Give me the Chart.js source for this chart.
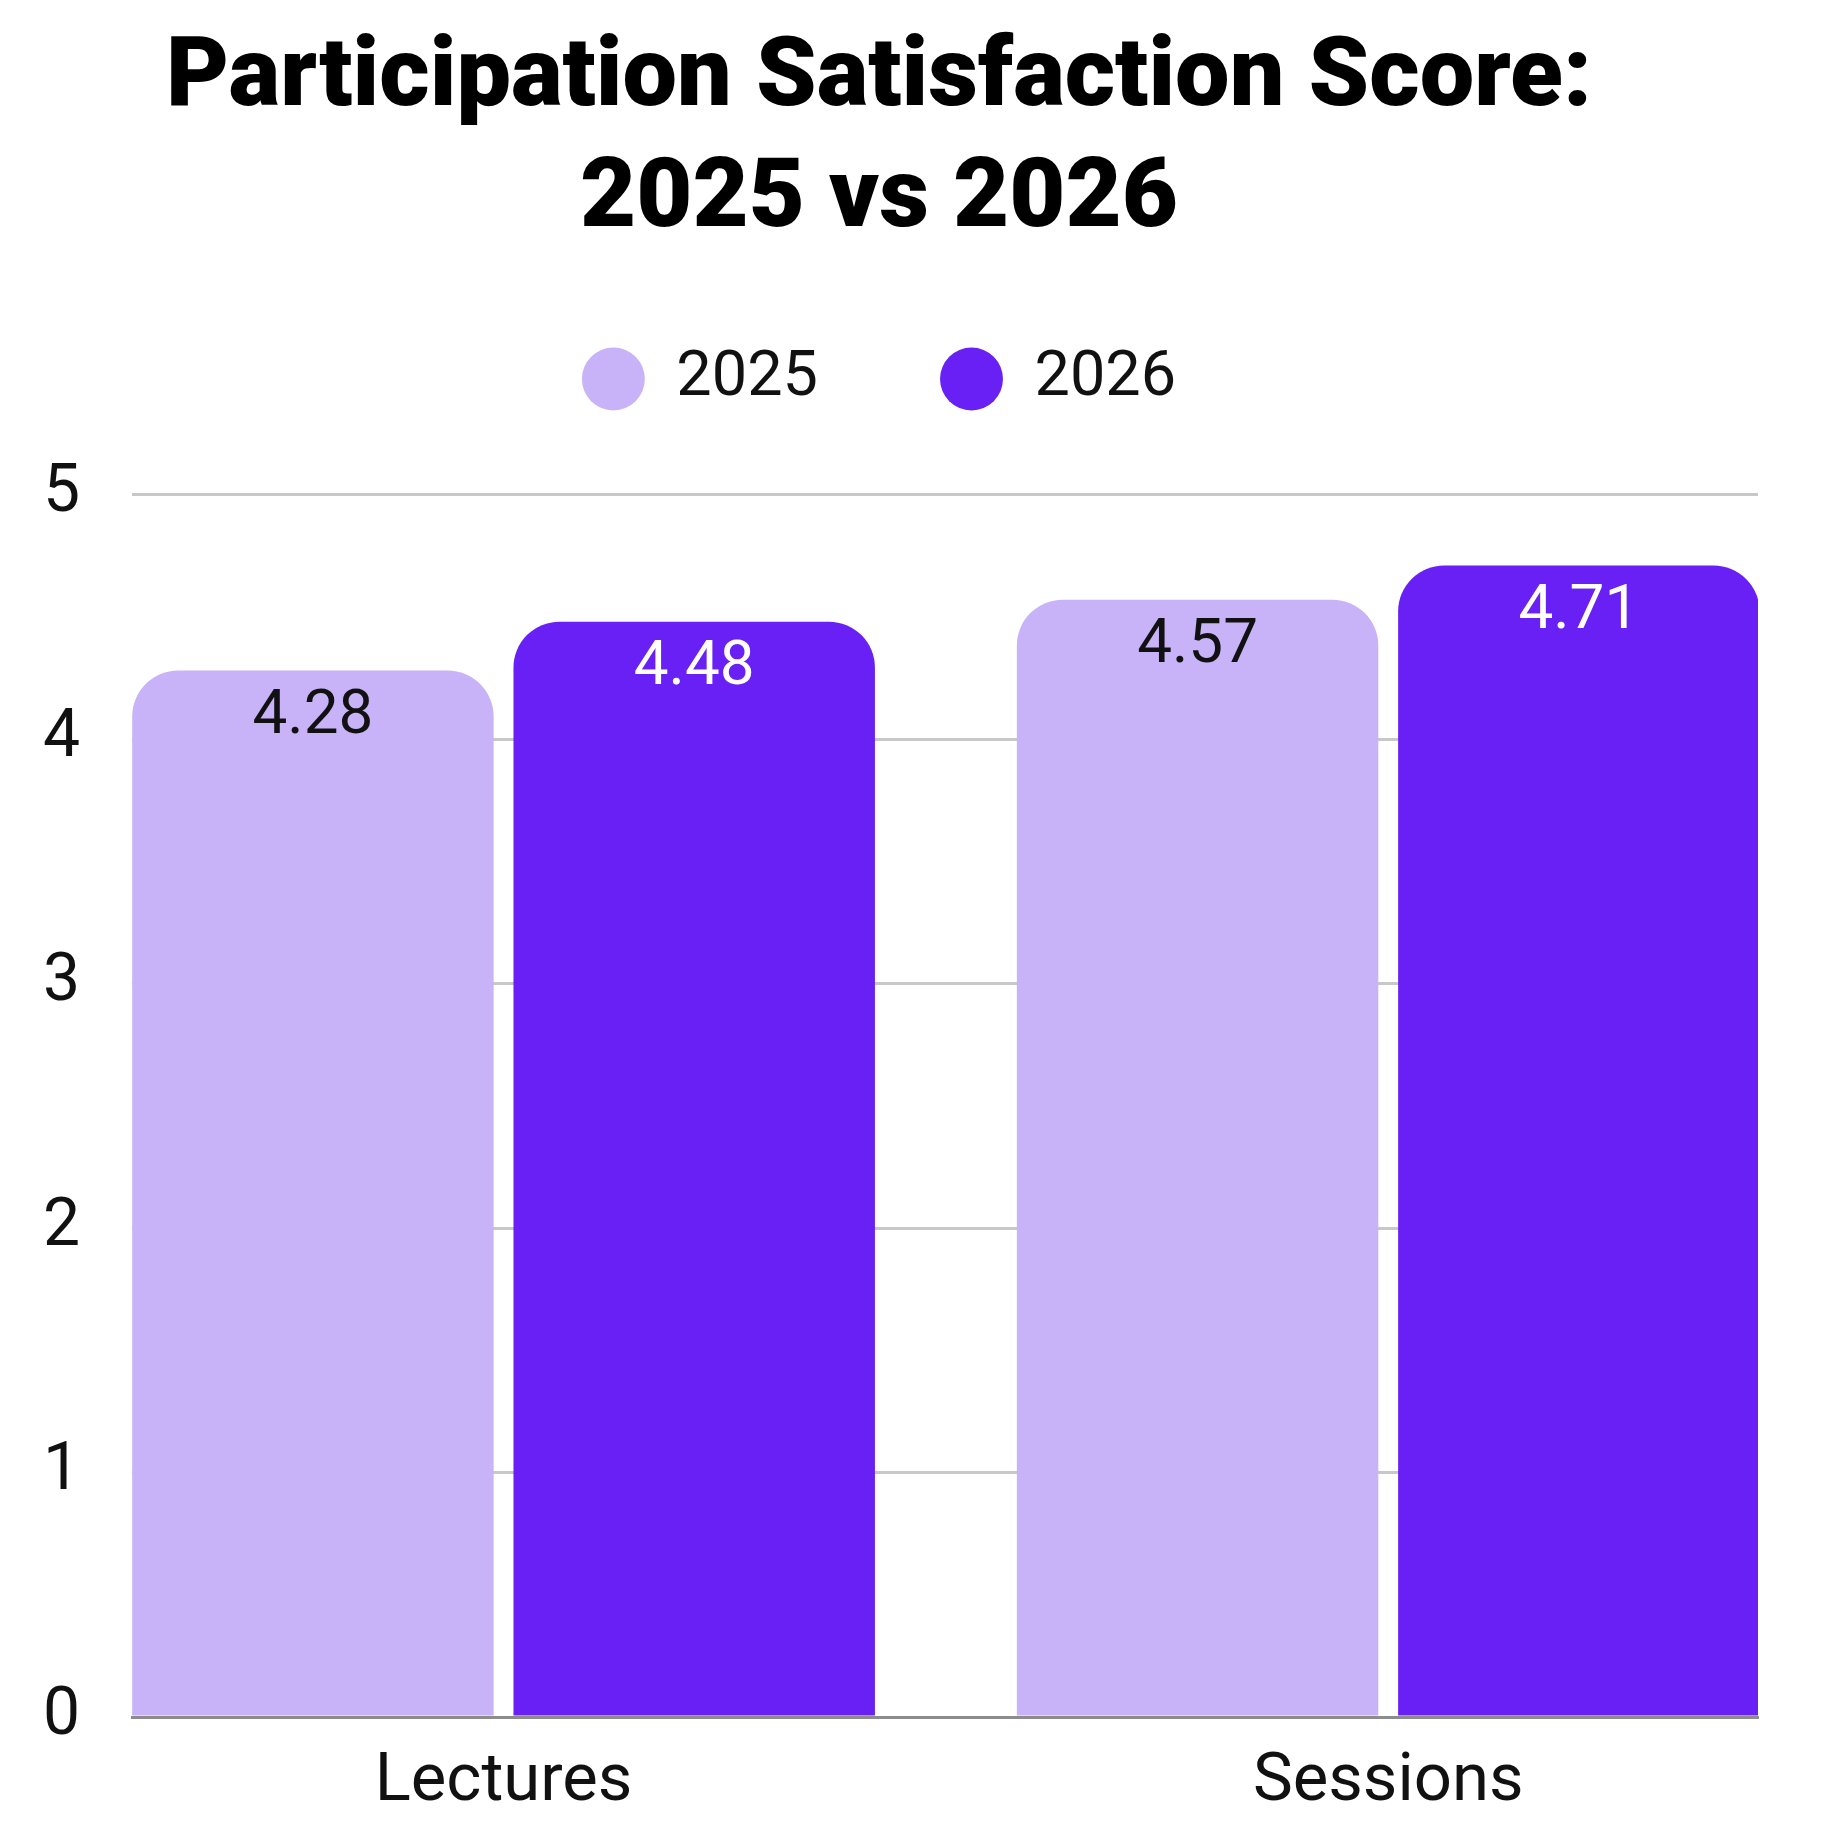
<!DOCTYPE html>
<html lang="en">
<head>
  <meta charset="UTF-8">
  <title>Participation Satisfaction Score</title>
  <script src="https://cdn.jsdelivr.net/npm/chart.js"></script>
  <style>
    html, body {
      margin: 0;
      padding: 0;
      background: #ffffff;
    }
    #chart-container {
      width: 1831px;
      height: 1836px;
    }
  </style>
</head>
<body>
  <div id="chart-container">
    <canvas id="scoreChart"></canvas>
  </div>

  <script>
    const categories = ['Lectures', 'Sessions'];
    const seriesNames = ['2025', '2026'];
    const scores2025 = [4.28, 4.57];
    const scores2026 = [4.48, 4.71];
    const yTicks = [0, 1, 2, 3, 4, 5];

    const fontFamily = "Roboto, 'Liberation Sans', sans-serif";

    // value labels inside the top of each bar
    const barLabels = {
      id: 'barLabels',
      afterDatasetsDraw(chart) {
        const ctx = chart.ctx;
        ctx.save();
        ctx.font = '62px ' + fontFamily;
        ctx.textAlign = 'center';
        ctx.textBaseline = 'middle';
        chart.data.datasets.forEach((ds, di) => {
          const meta = chart.getDatasetMeta(di);
          ctx.fillStyle = di === 0 ? '#111111' : '#ffffff';
          meta.data.forEach((bar, i) => {
            ctx.fillText(ds.data[i].y.toFixed(2), bar.x, bar.y + 47);
          });
        });
        ctx.restore();
      }
    };

    const toPoints = (values) => values.map((v, i) => ({ x: i, y: v }));

    new Chart(document.getElementById('scoreChart'), {
      type: 'bar',
      data: {
        datasets: [
          {
            label: seriesNames[0],
            data: toPoints(scores2025),
            backgroundColor: '#c8b2f8',
            borderWidth: 0
          },
          {
            label: seriesNames[1],
            data: toPoints(scores2026),
            backgroundColor: '#6820f4',
            borderWidth: 0
          }
        ]
      },
      plugins: [barLabels],
      options: {
        responsive: true,
        maintainAspectRatio: false,
        animation: false,
        layout: { padding: { left: 0, right: 73, top: 0, bottom: 9 } },
        datasets: {
          bar: {
            categoryPercentage: 0.862,
            barPercentage: 0.948,
            borderRadius: { topLeft: 46, topRight: 46, bottomLeft: 0, bottomRight: 0 },
            borderSkipped: false
          }
        },
        plugins: {
          title: {
            display: true,
            text: ['Participation Satisfaction Score:', '2025 vs 2026'],
            color: '#000000',
            font: { family: fontFamily, size: 97, weight: 900, lineHeight: 1.25 },
            padding: { top: 20, bottom: -37 }
          },
          subtitle: {
            // empty spacer between legend and plot
            display: true,
            text: '',
            weight: 500,
            font: { size: 10, lineHeight: 1 },
            padding: { top: 0, bottom: 64 }
          },
          legend: {
            display: true,
            position: 'top',
            labels: {
              usePointStyle: true,
              pointStyle: 'circle',
              boxWidth: 63,
              boxHeight: 44.5,
              padding: 122,
              color: '#111111',
              font: { family: fontFamily, size: 63 }
            }
          },
          tooltip: { enabled: false }
        },
        scales: {
          x: {
            type: 'linear',
            offset: false,
            min: -0.42,
            max: 1.418,
            afterFit: (scale) => { scale.height = 110; },
            grid: { display: false, drawTicks: false, offset: false },
            border: { display: true, color: '#8c8c8c', width: 3 },
            ticks: {
              stepSize: 1,
              includeBounds: false,
              padding: 26,
              color: '#111111',
              font: { family: fontFamily, size: 67 },
              callback: (v) => categories[v] !== undefined ? categories[v] : ''
            }
          },
          y: {
            min: yTicks[0],
            max: yTicks[yTicks.length - 1],
            afterFit: (scale) => { scale.width = 132; },
            grid: { color: '#c8c8c8', lineWidth: 3, drawTicks: false },
            border: { display: false },
            ticks: {
              stepSize: 1,
              padding: 52,
              color: '#111111',
              font: { family: fontFamily, size: 66 }
            }
          }
        }
      }
    });
  </script>
</body>
</html>
